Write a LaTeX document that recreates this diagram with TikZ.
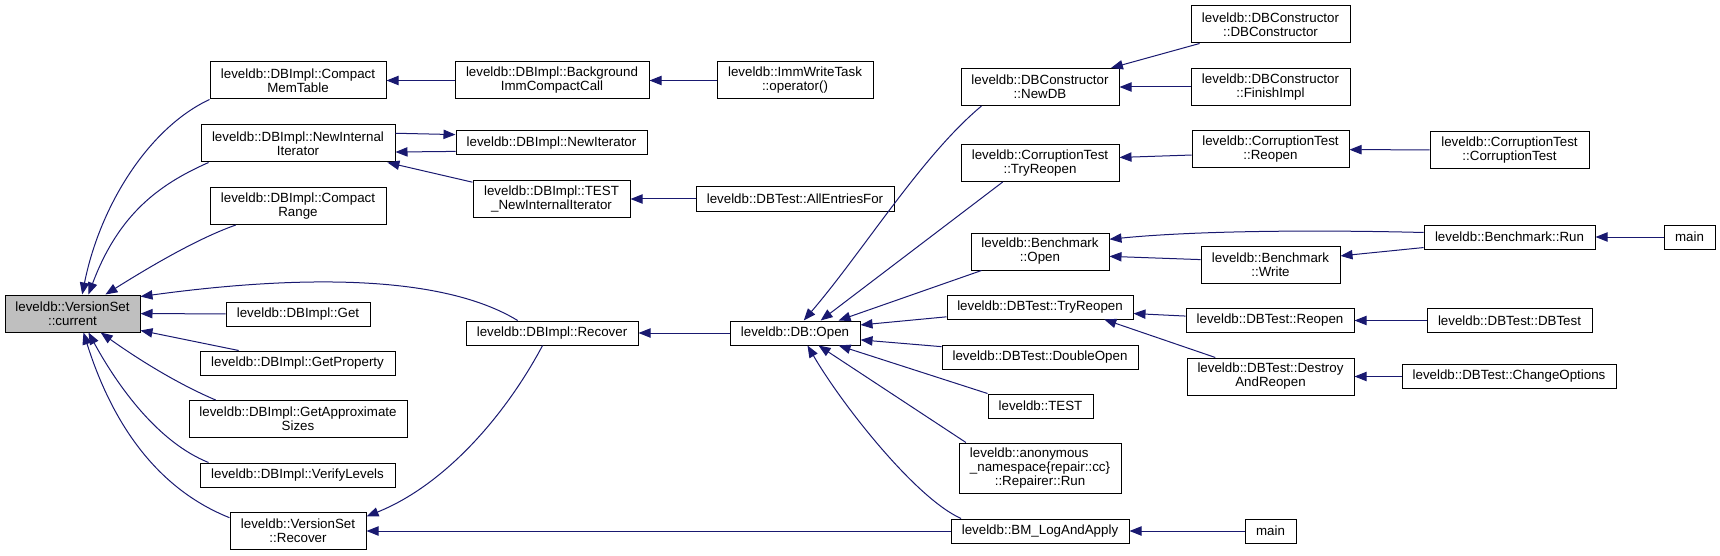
\documentclass[tikz,border=0pt]{standalone}
\usepackage{fontspec}
\setmainfont{Liberation Sans}
\usetikzlibrary{arrows.meta}
\definecolor{edgeblue}{HTML}{191970}
\definecolor{curgray}{HTML}{BFBFBF}

\begin{document}
\begin{tikzpicture}[
    x=0.75pt, y=-0.75pt, % one unit = one pixel of the graph
    >={Triangle[length=9pt, width=7pt]},
    font=\fontsize{10}{10.5}\selectfont,
    fn/.style={draw, fill=white, line width=0.75pt, inner sep=0pt, align=center, minimum height=18pt},
    tall/.style={minimum height=27.75pt},
    edge/.style={->, draw=edgeblue, line width=0.75pt}
]
    \useasboundingbox (0,0) rectangle (1720,556);

    % === 1. THE FUNCTION ITSELF ===
    \node[fn, tall, fill=curgray, minimum width=101.25pt] (cur) at (72.5,313.5) {leveldb::VersionSet\\::current};

    % === 2. DIRECT CALLERS ===
    \node[fn, tall, minimum width=132pt]    (cmt)  at (298,80.5)  {leveldb::DBImpl::Compact\\MemTable};
    \node[fn, tall, minimum width=145.5pt]  (nii)  at (298,143.5) {leveldb::DBImpl::NewInternal\\Iterator};
    \node[fn, tall, minimum width=132pt]    (cr)   at (298,206)   {leveldb::DBImpl::Compact\\Range};
    \node[fn, minimum width=108pt]          (get)  at (298,314)   {leveldb::DBImpl::Get};
    \node[fn, minimum width=146.25pt]       (gp)   at (297.5,363) {leveldb::DBImpl::GetProperty};
    \node[fn, tall, minimum width=163.5pt]  (gas)  at (298,419)   {leveldb::DBImpl::GetApproximate\\Sizes};
    \node[fn, minimum width=146.25pt]       (vl)   at (297.5,475) {leveldb::DBImpl::VerifyLevels};
    \node[fn, tall, minimum width=102pt]    (vsr)  at (298,531)   {leveldb::VersionSet\\::Recover};

    % === 3. SECOND COLUMN ===
    \node[fn, tall, minimum width=145.5pt]  (bicc) at (552,80.5)  {leveldb::DBImpl::Background\\ImmCompactCall};
    \node[fn, minimum width=143.25pt]       (ni)   at (551.5,143) {leveldb::DBImpl::NewIterator};
    \node[fn, tall, minimum width=117.75pt] (tnii) at (551.5,199) {leveldb::DBImpl::TEST\\\_NewInternalIterator};
    \node[fn, minimum width=129pt]          (dbir) at (552,333)   {leveldb::DBImpl::Recover};

    % === 4. THIRD COLUMN ===
    \node[fn, tall, minimum width=117pt]    (iwt)  at (795,80.5)  {leveldb::ImmWriteTask\\::operator()};
    \node[fn, minimum width=148.5pt]        (aef)  at (795,199)   {leveldb::DBTest::AllEntriesFor};
    \node[fn, minimum width=97.5pt]         (open) at (795,333)   {leveldb::DB::Open};

    % === 5. CALLERS OF DB::Open ===
    \node[fn, tall, minimum width=118.5pt]  (newdb) at (1040,87)    {leveldb::DBConstructor\\::NewDB};
    \node[fn, tall, minimum width=118.5pt]  (ctry)  at (1040,163)   {leveldb::CorruptionTest\\::TryReopen};
    \node[fn, tall, minimum width=103.5pt]  (bopen) at (1040,251.5) {leveldb::Benchmark\\::Open};
    \node[fn, minimum width=139.5pt]        (dtry)  at (1040,307)   {leveldb::DBTest::TryReopen};
    \node[fn, minimum width=147pt]          (dopen) at (1040,357)   {leveldb::DBTest::DoubleOpen};
    \node[fn, minimum width=78.75pt]        (test)  at (1040.5,406) {leveldb::TEST};
    \node[fn, minimum width=121.5pt, minimum height=37.5pt] (rrun) at (1040,468)
        {\rlap{leveldb::anonymous}\phantom{\_namespace\{repair::cc\}}\\\_namespace\{repair::cc\}\\::Repairer::Run};
    \node[fn, minimum width=133.5pt]        (bmla)  at (1040,531)   {leveldb::BM\_LogAndApply};

    % === 6. FIFTH COLUMN ===
    \node[fn, tall, minimum width=119.25pt] (dbc)     at (1270.5,24.5)  {leveldb::DBConstructor\\::DBConstructor};
    \node[fn, tall, minimum width=119.25pt] (fimpl)   at (1270.5,87)    {leveldb::DBConstructor\\::FinishImpl};
    \node[fn, tall, minimum width=117.75pt] (creopen) at (1270.5,149.5) {leveldb::CorruptionTest\\::Reopen};
    \node[fn, tall, minimum width=104.25pt] (bwrite)  at (1270.5,264.5) {leveldb::Benchmark\\::Write};
    \node[fn, minimum width=126pt]          (dreopen) at (1270,320.5)   {leveldb::DBTest::Reopen};
    \node[fn, tall, minimum width=125.25pt] (dar)     at (1270.5,376.5) {leveldb::DBTest::Destroy\\AndReopen};
    \node[fn, minimum width=38.25pt]        (mainb)   at (1270.5,531)   {main};

    % === 7. OUTERMOST CALLERS ===
    \node[fn, tall, minimum width=119.25pt] (cct)   at (1509.5,150)   {leveldb::CorruptionTest\\::CorruptionTest};
    \node[fn, minimum width=128.25pt]       (brun)  at (1509.5,237)   {leveldb::Benchmark::Run};
    \node[fn, minimum width=123.75pt]       (dbtest) at (1509.5,320.5) {leveldb::DBTest::DBTest};
    \node[fn, minimum width=160.5pt]        (chopt) at (1509,376.5)   {leveldb::DBTest::ChangeOptions};
    \node[fn, minimum width=38.25pt]        (maint) at (1689.5,237)   {main};

    % === 8. EDGES INTO VersionSet::current ===
    \draw[edge] (cmt.south west) .. controls +(-60,28) and +(18,-90) .. (cur.63);
    \draw[edge] (nii.192) .. controls +(-50,22) and +(30,-80) .. (cur.50);
    \draw[edge] (cr.197) .. controls +(-40,14) and +(40,-25) .. (cur.30);
    \draw[edge] (dbir.160) .. controls +(-90,-55) and +(110,-15) .. (cur.14);
    \draw[edge] (get) -- (cur);
    \draw[edge] (gp.168) -- (cur.346);
    \draw[edge] (gas.167) .. controls +(-40,-17) and +(35,25) .. (cur.326);
    \draw[edge] (vl.172) .. controls +(-50,-20) and +(30,55) .. (cur.310);
    \draw[edge] (vsr.169) .. controls +(-70,-28) and +(30,95) .. (cur.300);

    % === 9. EDGES OF THE SECOND COLUMN ===
    \draw[edge] (bicc) -- (cmt);
    \draw[edge] (iwt) -- (bicc);
    \draw[edge] (nii.6) -- (ni.175);
    \draw[edge] (ni.185) -- (nii.355);
    \draw[edge] (tnii.168) -- (nii.348);
    \draw[edge] (aef) -- (tnii);
    \draw[edge] (open) -- (dbir);
    \draw[edge] (dbir.233) .. controls +(-40,75) and +(75,-30) .. (vsr.12);
    \draw[edge] (bmla) -- (vsr);

    % === 10. EDGES INTO DB::Open ===
    \draw[edge] (newdb.198) .. controls +(-60,50) and +(60,-70) .. (open.55);
    \draw[edge] (ctry.207) -- (open.26);
    \draw[edge] (bopen.198) -- (open.16);
    \draw[edge] (dtry.186) -- (open.7);
    \draw[edge] (dopen.174) -- (open.354);
    \draw[edge] (test.north west) -- (open.344);
    \draw[edge] (rrun.161) -- (open.332);
    \draw[edge] (bmla.171) .. controls +(-45,-20) and +(35,60) .. (open.315);

    % === 11. OUTER EDGES ===
    \draw[edge] (dbc.195) -- (newdb.15);
    \draw[edge] (fimpl) -- (newdb);
    \draw[edge] (creopen.184) -- (ctry.4);
    \draw[edge] (cct) -- (creopen);
    \draw[edge] (brun.177) .. controls +(-120,-3) and +(80,-8) .. (bopen.10);
    \draw[edge] (bwrite.176) -- (bopen.356);
    \draw[edge] (brun.187) -- (bwrite.7);
    \draw[edge] (maint) -- (brun);
    \draw[edge] (dreopen.177) -- (dtry.356);
    \draw[edge] (dar.161) -- (dtry.349);
    \draw[edge] (dbtest) -- (dreopen);
    \draw[edge] (chopt) -- (dar);
    \draw[edge] (mainb) -- (bmla);

\end{tikzpicture}
\end{document}
